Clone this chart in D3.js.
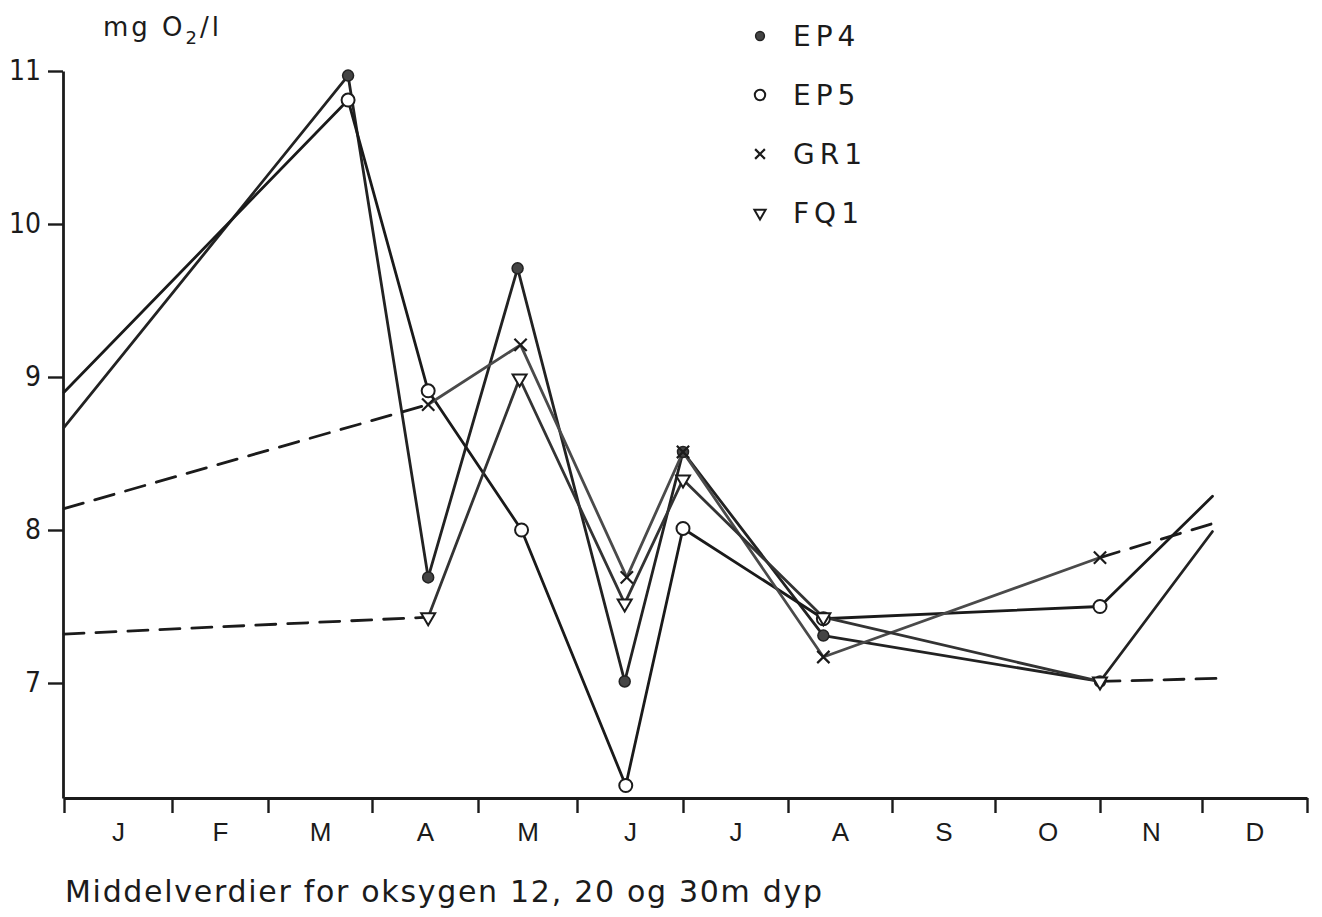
<!DOCTYPE html>
<html>
<head>
<meta charset="utf-8">
<script src="https://cdn.jsdelivr.net/npm/d3@7"></script>
<style>
  body { margin: 0; background: #fff; }
  svg { display: block; font-family: "DejaVu Sans", sans-serif; }
</style>
</head>
<body>
<div id="chart"></div>
<script>
// month letters under the axis
var months = ["J", "F", "M", "A", "M", "J", "J", "A", "S", "O", "N", "D"];
var yTicks = [7, 8, 9, 10, 11];

// time as month position (0 = 1 Jan, 12 = 31 Dec), values in mg O2/l
var ep4Month = [0, 2.77, 3.53, 4.40, 5.45, 6.0, 7.34, 10.0, 11.10];
var ep4Val   = [8.67, 10.97, 7.69, 9.71, 7.01, 8.51, 7.31, 7.01, 7.99];

var ep5Month = [0, 2.77, 3.53, 4.44, 5.46, 6.0, 7.34, 10.0, 11.10];
var ep5Val   = [8.90, 10.81, 8.91, 8.00, 6.33, 8.01, 7.42, 7.50, 8.22];

var gr1Month = [0, 3.53, 4.43, 5.47, 6.0, 7.34, 10.0, 11.14];
var gr1Val   = [8.14, 8.82, 9.21, 7.69, 8.51, 7.17, 7.82, 8.05];

var fq1Month = [0, 3.53, 4.42, 5.45, 6.0, 7.34, 10.0, 11.14];
var fq1Val   = [7.32, 7.43, 8.99, 7.52, 8.33, 7.43, 7.01, 7.03];

var seriesNames = ["EP4", "EP5", "GR1", "FQ1"];

var W = 1322, H = 917;
var svg = d3.select("#chart").append("svg")
    .attr("width", W).attr("height", H);

// hand drawn month boundaries on the original
var tickPx = [64, 172, 268, 372, 478, 577, 683, 788, 892, 995, 1100, 1202, 1307];
var x = d3.scaleLinear().domain(d3.range(13)).range(tickPx);
var y = d3.scaleLinear().domain([7, 11]).range([683, 71]);
var yBottom = 798;
var ink = "#1b1b1b";

// y axis
var yAxisScale = y.copy().domain([y.invert(yBottom), 11]).range([yBottom, 71]);
var gy = svg.append("g").attr("transform", "translate(63,0)")
    .call(d3.axisLeft(yAxisScale).tickValues(yTicks).tickSize(15).tickSizeOuter(0).tickPadding(7).tickFormat(d3.format("d")));
gy.select(".domain").attr("stroke", ink).attr("stroke-width", 2.8);
gy.selectAll(".tick line").attr("stroke", ink).attr("stroke-width", 2.4);
gy.selectAll(".tick text").attr("fill", ink).style("font-size", "28px")
    .style("font-family", "'Liberation Sans Narrow', 'DejaVu Sans Condensed', sans-serif");

// x axis with tick marks at month boundaries
var gx = svg.append("g").attr("transform", "translate(0," + yBottom + ")")
    .call(d3.axisBottom(x).tickValues(d3.range(13)).tickSize(15).tickSizeOuter(0).tickFormat(""));
gx.select(".domain").attr("stroke", ink).attr("stroke-width", 2.8);
gx.selectAll(".tick line").attr("stroke", ink).attr("stroke-width", 2.4);

// month letters in the middle of each month
var gm = svg.append("g").attr("transform", "translate(0," + yBottom + ")")
    .call(d3.axisBottom(x).tickValues(d3.range(12).map(function(i) { return i + 0.5; }))
        .tickSize(0).tickPadding(25).tickFormat(function(d, i) { return months[i]; }));
gm.select(".domain").remove();
gm.selectAll(".tick text").attr("fill", ink).style("font-size", "26px");

// y unit label
var unit = svg.append("text").attr("x", 103).attr("y", 36)
    .attr("fill", ink).style("font-size", "26px").style("letter-spacing", "3px");
unit.append("tspan").text("mg O");
unit.append("tspan").attr("dy", 8).style("font-size", "18px").text("2");
unit.append("tspan").attr("dy", -8).text("/l");

// caption
svg.append("text").attr("x", 65).attr("y", 902)
    .attr("fill", ink).style("font-size", "30px")
    .attr("textLength", 757).attr("lengthAdjust", "spacing")
    .text("Middelverdier for oksygen 12, 20 og 30m dyp");

var series = [
  { name: seriesNames[0], m: ep4Month, v: ep4Val, shape: "dot",  color: "#222", dashed: [] },
  { name: seriesNames[1], m: ep5Month, v: ep5Val, shape: "ring", color: "#1a1a1a", dashed: [] },
  { name: seriesNames[2], m: gr1Month, v: gr1Val, shape: "x",    color: "#4a4a4a", dashed: [0, 6] },
  { name: seriesNames[3], m: fq1Month, v: fq1Val, shape: "tri",  color: "#333", dashed: [0, 6] }
];

var line = d3.line().x(function(d) { return x(d[0]); }).y(function(d) { return y(d[1]); });

// lines, drawn per segment so some can be dashed
series.forEach(function(s) {
  var pts = s.m.map(function(m, i) { return [m, s.v[i]]; });
  var segs = d3.pairs(pts);
  svg.append("g").selectAll("path").data(segs).enter().append("path")
      .attr("d", line)
      .attr("fill", "none")
      .attr("stroke", function(d, i) { return s.dashed.indexOf(i) >= 0 ? ink : s.color; })
      .attr("stroke-width", 2.8)
      .attr("stroke-linecap", "round")
      .attr("stroke-dasharray", function(d, i) { return s.dashed.indexOf(i) >= 0 ? "20,12" : null; });
});

function drawMarker(g, shape, scale) {
  if (shape === "dot") {
    g.append("circle").attr("r", 5.5 * scale).attr("fill", "#444").attr("stroke", "#222").attr("stroke-width", 1.5);
  } else if (shape === "ring") {
    g.append("circle").attr("r", 6.5 * scale).attr("fill", "#fff").attr("stroke", ink).attr("stroke-width", 2);
  } else if (shape === "x") {
    g.append("path").attr("d", d3.symbol(d3.symbolX, 100 * scale * scale)())
        .attr("fill", "none").attr("stroke", ink).attr("stroke-width", 2.2);
  } else {
    g.append("path").attr("d", d3.symbol(d3.symbolTriangle, 85 * scale * scale)())
        .attr("transform", "rotate(180)")
        .attr("fill", "#fff").attr("stroke", ink).attr("stroke-width", 2);
  }
}

// markers, skipping the line ends at the edges of the year
series.forEach(function(s) {
  s.m.forEach(function(m, i) {
    if (i === 0 || i === s.m.length - 1) return;
    var g = svg.append("g").attr("transform", "translate(" + x(m) + "," + y(s.v[i]) + ")");
    drawMarker(g, s.shape, 1);
  });
});

// legend
var legY = d3.scalePoint().domain(seriesNames).range([36, 213]);
series.forEach(function(s) {
  var g = svg.append("g").attr("transform", "translate(760," + legY(s.name) + ")");
  drawMarker(g, s.shape, 0.8);
  g.append("text").attr("x", 33).attr("y", 10)
      .attr("fill", ink).style("font-size", "28px").style("letter-spacing", "5px")
      .text(s.name);
});
</script>
</body>
</html>
